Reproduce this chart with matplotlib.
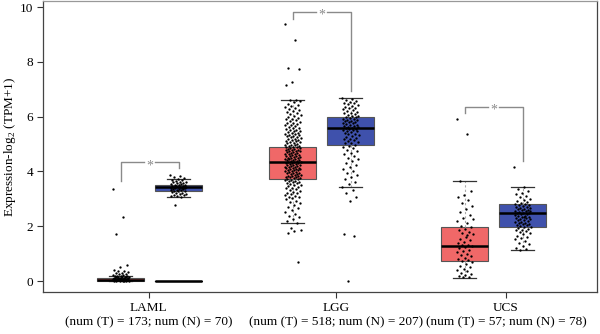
import matplotlib
matplotlib.use("Agg")
import matplotlib.pyplot as plt

plt.rcParams['font.family'] = ['Liberation Serif', 'DejaVu Serif']
plt.rcParams['mathtext.fontset'] = 'custom'
plt.rcParams['mathtext.rm'] = 'Liberation Serif'

# ---------------- data ----------------
cancers = ["LAML", "LGG", "UCS"]
num_t = [173, 518, 57]
num_n = [70, 207, 78]

# box statistics per box, order: LAML-T, LAML-N, LGG-T, LGG-N, UCS-T, UCS-N
box_q1 = [0.00, 3.28, 3.71, 4.96, 0.74, 1.96]
box_med = [0.03, 3.42, 4.33, 5.60, 1.28, 2.49]
box_q3 = [0.10, 3.50, 4.89, 6.00, 1.97, 2.81]
box_lo = [0.00, 3.08, 2.10, 3.44, 0.12, 1.13]
box_hi = [0.19, 3.72, 6.59, 6.69, 3.65, 3.43]

# flat zero box drawn at the LAML normal position
laml_n_zero = [0.0, 0.0, 0.0]

laml_t = [3.35, 2.32, 1.72, 0.58, 0.50, 0.42, 0.38, 0.35, 0.32, 0.30, 0.28, 0.26,
          0.24, 0.22, 0.21, 0.20, 0.19, 0.18, 0.17, 0.16, 0.15, 0.15, 0.14, 0.13,
          0.13, 0.12, 0.12, 0.11, 0.11, 0.10, 0.10, 0.10, 0.09, 0.09, 0.08, 0.08,
          0.08, 0.07, 0.07, 0.07, 0.06, 0.06, 0.06, 0.05, 0.05, 0.05, 0.04, 0.04,
          0.04, 0.03, 0.03, 0.03, 0.02, 0.02, 0.02, 0.01, 0.01, 0.01, 0.00, 0.00,
          0.00, 0.00]
laml_n = [3.87, 3.84, 3.80, 3.76, 3.72, 3.70, 3.68, 3.65, 3.63, 3.61, 3.60, 3.58,
          3.56, 3.55, 3.53, 3.52, 3.50, 3.49, 3.48, 3.47, 3.46, 3.45, 3.44, 3.43,
          3.42, 3.42, 3.41, 3.40, 3.39, 3.38, 3.37, 3.36, 3.35, 3.34, 3.33, 3.32,
          3.30, 3.29, 3.27, 3.25, 3.23, 3.21, 3.19, 3.17, 3.15, 3.13, 3.11, 3.09,
          3.08, 2.77]
lgg_t = [9.37, 8.80, 7.78, 7.75, 7.27, 7.14, 6.62, 6.60,
         6.56, 6.52, 6.47, 6.43, 6.39, 6.34, 6.30, 6.27, 6.23, 6.19, 6.16, 6.12, 6.09, 6.05, 6.02,
         5.99, 5.96, 5.93, 5.90, 5.87, 5.84, 5.81, 5.78, 5.76, 5.73, 5.70, 5.68, 5.65, 5.62, 5.60,
         5.57, 5.55, 5.52, 5.50,
         5.48, 5.46, 5.44, 5.42, 5.40, 5.38, 5.36, 5.34, 5.32, 5.30, 5.28, 5.26, 5.24, 5.22, 5.20,
         5.18, 5.16, 5.14, 5.12, 5.10, 5.08, 5.06, 5.04, 5.02, 5.00,
         4.98, 4.97, 4.95, 4.94, 4.92, 4.91, 4.89, 4.88, 4.86, 4.85, 4.83, 4.82, 4.80, 4.79, 4.77,
         4.76, 4.74, 4.73, 4.71, 4.70, 4.68, 4.67, 4.65, 4.64, 4.62, 4.61, 4.59, 4.58, 4.56, 4.55,
         4.53, 4.52, 4.50,
         4.49, 4.48, 4.46, 4.45, 4.44, 4.42, 4.41, 4.40, 4.38, 4.37, 4.36, 4.34, 4.33, 4.32, 4.30,
         4.29, 4.28, 4.26, 4.25, 4.24, 4.22, 4.21, 4.20, 4.18, 4.17, 4.16, 4.14, 4.13, 4.12, 4.10,
         4.09, 4.08, 4.06, 4.05, 4.04, 4.02, 4.01,
         3.99, 3.97, 3.96, 3.94, 3.93, 3.91, 3.90, 3.88, 3.87, 3.85, 3.84, 3.82, 3.81, 3.79, 3.78,
         3.76, 3.75, 3.73, 3.72, 3.70, 3.68, 3.66, 3.64, 3.62, 3.60, 3.58, 3.56, 3.54, 3.52, 3.50,
         3.47, 3.44, 3.41, 3.38, 3.35, 3.32, 3.29, 3.26, 3.23, 3.20, 3.17, 3.14, 3.11, 3.08, 3.05,
         3.02, 2.98, 2.93, 2.88, 2.83, 2.78, 2.72, 2.66, 2.60, 2.53, 2.46, 2.39, 2.32, 2.25, 2.18,
         2.12, 1.95, 1.88, 1.82, 1.76, 0.70]
lgg_n = [6.69, 6.66, 6.62, 6.58, 6.55, 6.51, 6.48, 6.45, 6.42, 6.39, 6.36, 6.33, 6.30, 6.27,
         6.24, 6.21, 6.18, 6.15, 6.12, 6.09, 6.06, 6.03, 6.01,
         5.99, 5.97, 5.95, 5.93, 5.91, 5.89, 5.87, 5.85, 5.83, 5.81, 5.79, 5.77, 5.75, 5.73,
         5.71, 5.69, 5.67, 5.65, 5.63, 5.61, 5.60,
         5.58, 5.56, 5.54, 5.52, 5.50, 5.48, 5.46, 5.44, 5.41, 5.38, 5.35, 5.32, 5.29, 5.26,
         5.23, 5.20, 5.17, 5.14, 5.11, 5.08, 5.05, 5.02, 4.98,
         4.94, 4.89, 4.84, 4.79, 4.74, 4.68, 4.62, 4.56, 4.50, 4.44, 4.38, 4.31, 4.24, 4.17,
         4.10, 4.03, 3.96, 3.88, 3.80, 3.72, 3.63, 3.54, 3.45,
         3.32, 3.20, 3.08, 2.92, 1.70, 1.66, 0.00]
ucs_t = [5.90, 5.35, 3.65, 3.30, 3.15, 3.05, 2.95, 2.85, 2.75, 2.62, 2.52, 2.40, 2.30,
         2.20, 2.10, 2.02, 1.96, 1.90, 1.85, 1.80, 1.75, 1.70, 1.62, 1.55, 1.48, 1.42,
         1.38, 1.33, 1.30, 1.28, 1.25, 1.20, 1.15, 1.10, 1.05, 1.00, 0.95, 0.90, 0.85,
         0.80, 0.76, 0.72, 0.68, 0.62, 0.56, 0.50, 0.45, 0.40, 0.35, 0.30, 0.26, 0.22,
         0.18, 0.15, 0.13, 2.25, 1.68]
ucs_n = [4.15, 3.43, 3.35, 3.28, 3.22, 3.16, 3.10, 3.05, 3.00, 2.96, 2.92, 2.88, 2.85,
         2.82, 2.80, 2.78, 2.76, 2.74, 2.72, 2.70, 2.68, 2.66, 2.64, 2.62, 2.60, 2.58,
         2.56, 2.54, 2.52, 2.50, 2.49, 2.47, 2.45, 2.43, 2.41, 2.39, 2.37, 2.35, 2.33,
         2.31, 2.29, 2.27, 2.25, 2.23, 2.21, 2.19, 2.17, 2.15, 2.13, 2.11, 2.09, 2.07,
         2.05, 2.03, 2.01, 1.99, 1.97, 1.94, 1.91, 1.88, 1.85, 1.82, 1.78, 1.74, 1.70,
         1.66, 1.62, 1.58, 1.52, 1.46, 1.40, 1.34, 1.28, 1.22, 1.16, 1.13, 2.55, 2.35]
points = [laml_t, laml_n, lgg_t, lgg_n, ucs_t, ucs_n]

# significance brackets: top, left-leg bottom, right-leg bottom
br_top = [4.33, 9.81, 6.36]
br_left = [3.65, 9.56, 6.13]
br_right = [4.12, 6.95, 4.38]

# ---------------- layout ----------------
group_center = [0.62, 1.62, 2.62]
offset = 0.168
box_w = 0.273
tick_pos = [0.615, 1.703, 2.692]
positions = []
for g in group_center:
    positions += [g - offset, g + offset]
colors = ['#F06868', '#3F51AC'] * 3

fig = plt.figure(figsize=(6.0, 3.34), dpi=100)
ax = fig.add_axes([43 / 600, 42 / 334, 554 / 600, 291 / 334])

stats = []
for i in range(6):
    stats.append(dict(q1=box_q1[i], med=box_med[i], q3=box_q3[i],
                      whislo=box_lo[i], whishi=box_hi[i], fliers=[]))
bp = ax.bxp(stats, positions=positions, widths=box_w, patch_artist=True,
            showfliers=False, capwidths=box_w * 0.5,
            boxprops=dict(edgecolor='#555555', linewidth=0.8),
            medianprops=dict(color='black', linewidth=1.8),
            whiskerprops=dict(color='#aaaaaa', linewidth=0.8, linestyle=(0, (2, 2))),
            capprops=dict(color='#333333', linewidth=0.9))
for patch, c in zip(bp['boxes'], colors):
    patch.set_facecolor(c)
for artist in bp['boxes'] + bp['medians'] + bp['whiskers'] + bp['caps']:
    artist.set_zorder(2)

# zero box at LAML normal position
zs = [dict(q1=laml_n_zero[0], med=laml_n_zero[1], q3=laml_n_zero[2],
           whislo=0.0, whishi=0.0, fliers=[])]
ax.bxp(zs, positions=[positions[1]], widths=box_w, showfliers=False, showcaps=False,
       boxprops=dict(color='black', linewidth=0.8),
       medianprops=dict(color='black', linewidth=1.8),
       whiskerprops=dict(linewidth=0))

# jittered points
jw = 0.095
for k, vals in enumerate(points):
    xs = [positions[k] + (((i * 0.6180339887) % 1.0) - 0.5) * jw for i in range(len(vals))]
    ax.scatter(xs, vals, s=2.8, c='black', linewidths=0, zorder=3)

# brackets
gap = 0.03
bc = '#8a8a8a'
for j in range(3):
    xl, xr = positions[2 * j], positions[2 * j + 1]
    xm = (xl + xr) / 2
    ax.plot([xl, xl, xm - gap], [br_left[j], br_top[j], br_top[j]], color=bc, lw=1.0, zorder=1)
    ax.plot([xm + gap, xr, xr], [br_top[j], br_top[j], br_right[j]], color=bc, lw=1.0, zorder=1)
    ax.text(xm, br_top[j] - 0.12, '*', ha='center', va='center', color=bc, fontsize=10)

ax.set_xlim(0, 554 / 172)
ax.set_ylim(-0.40, 10.22)
ax.set_yticks([0, 2, 4, 6, 8, 10])
ax.set_xticks(tick_pos)
ax.set_xticklabels([f"{c}\n(num (T) = {t}; num (N) = {n})" for c, t, n in zip(cancers, num_t, num_n)],
                   fontsize=9.5, linespacing=1.3)
ax.tick_params(axis='y', labelsize=9.5, length=4, width=0.8, color='#333333', pad=3)
ax.tick_params(axis='x', length=4, width=0.8, color='#333333', pad=3)
ax.set_ylabel(r'Expression-log$_\mathregular{2}$ (TPM+1)', fontsize=9.5)
ax.yaxis.set_label_coords(-25 / 554, 0.5)
for s in ['left', 'bottom', 'right']:
    ax.spines[s].set_color('#444444')
    ax.spines[s].set_linewidth(0.9)
ax.spines['top'].set_color('#999999')
ax.spines['top'].set_linewidth(0.9)

fig.savefig('out.png', dpi=100)
